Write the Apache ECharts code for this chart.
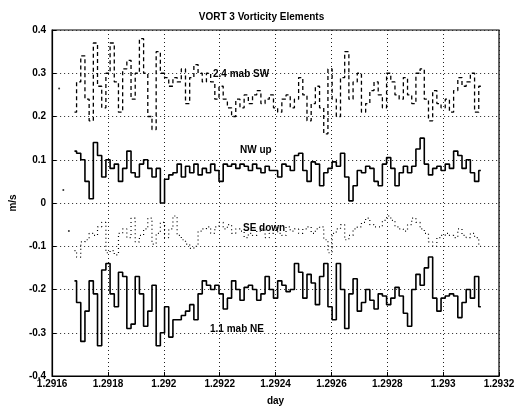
<!DOCTYPE html>
<html><head><meta charset="utf-8">
<script src="https://cdn.jsdelivr.net/npm/echarts@6/dist/echarts.min.js"></script>
<style>html,body{margin:0;padding:0;background:#fff}#c{width:523px;height:411px}</style>
</head><body><div id="c"></div>
<script>
const days = [1.29168,1.291695,1.29171,1.291725,1.29174,1.291755,1.29177,1.291785,1.2918,1.291815,
1.29183,1.291845,1.29186,1.291875,1.29189,1.291905,1.29192,1.291935,1.29195,1.291965,
1.29198,1.291995,1.29201,1.292025,1.29204,1.292055,1.29207,1.292085,1.2921,1.292115,
1.29213,1.292145,1.29216,1.292175,1.29219,1.292205,1.29222,1.292235,1.29225,1.292265,
1.29228,1.292295,1.29231,1.292325,1.29234,1.292355,1.29237,1.292385,1.2924,1.292415,
1.29243,1.292445,1.29246,1.292475,1.29249,1.292505,1.29252,1.292535,1.29255,1.292565,
1.29258,1.292595,1.29261,1.292625,1.29264,1.292655,1.29267,1.292685,1.2927,1.292715,
1.29273,1.292745,1.29276,1.292775,1.29279,1.292805,1.29282,1.292835,1.29285,1.292865,
1.29288,1.292895,1.29291,1.292925,1.29294,1.292955,1.29297,1.292985,1.293,1.293015,
1.29303,1.293045,1.29306,1.293075,1.29309,1.293105,1.29312,1.293135];

const sw = [0.21,0.28,0.34,0.24,0.19,0.37,0.27,0.22,0.30,0.37,
0.28,0.21,0.31,0.33,0.24,0.30,0.38,0.30,0.20,0.17,
0.35,0.30,0.29,0.27,0.29,0.28,0.31,0.23,0.29,0.32,
0.30,0.28,0.30,0.28,0.24,0.27,0.24,0.22,0.20,0.24,
0.22,0.25,0.23,0.25,0.26,0.23,0.24,0.25,0.22,0.21,
0.24,0.25,0.22,0.24,0.29,0.25,0.19,0.23,0.27,0.22,
0.16,0.31,0.24,0.20,0.29,0.35,0.24,0.28,0.30,0.21,
0.23,0.26,0.28,0.25,0.22,0.30,0.28,0.25,0.24,0.29,
0.25,0.23,0.30,0.31,0.24,0.19,0.26,0.23,0.22,0.24,
0.21,0.26,0.29,0.27,0.28,0.30,0.21,0.27];

const nw = [0.12,0.115,0.10,0.05,0.01,0.14,0.11,0.06,0.10,0.08,
0.09,0.05,0.08,0.12,0.07,0.06,0.09,0.10,0.08,0.06,
0.08,0.0,0.055,0.065,0.07,0.09,0.06,0.085,0.07,0.09,
0.065,0.08,0.07,0.09,0.075,0.05,0.09,0.085,0.09,0.08,
0.09,0.085,0.075,0.09,0.08,0.07,0.085,0.075,0.075,0.06,
0.09,0.085,0.075,0.11,0.115,0.075,0.05,0.095,0.09,0.04,
0.07,0.08,0.095,0.085,0.115,0.06,0.005,0.04,0.075,0.07,
0.085,0.08,0.05,0.04,0.09,0.105,0.08,0.04,0.07,0.085,
0.07,0.085,0.125,0.15,0.09,0.065,0.08,0.085,0.075,0.09,
0.08,0.12,0.11,0.08,0.10,0.07,0.05,0.075];

const se = [-0.11,-0.125,-0.09,-0.085,-0.07,-0.075,-0.055,-0.045,-0.115,-0.11,
-0.12,-0.07,-0.06,-0.08,-0.035,-0.09,-0.075,-0.06,-0.035,-0.095,
-0.07,-0.045,-0.08,-0.06,-0.03,-0.075,-0.085,-0.095,-0.105,-0.1,
-0.065,-0.06,-0.055,-0.07,-0.055,-0.045,-0.06,-0.05,-0.07,-0.06,
-0.065,-0.08,-0.07,-0.075,-0.065,-0.06,-0.08,-0.07,-0.055,-0.07,
-0.075,-0.055,-0.065,-0.06,-0.07,-0.06,-0.055,-0.07,-0.06,-0.055,
-0.085,-0.115,-0.07,-0.06,-0.05,-0.085,-0.075,-0.06,-0.055,-0.045,
-0.035,-0.05,-0.055,-0.055,-0.04,-0.03,-0.04,-0.055,-0.06,-0.065,
-0.05,-0.035,-0.045,-0.06,-0.07,-0.09,-0.1,-0.08,-0.075,-0.07,
-0.075,-0.08,-0.06,-0.075,-0.08,-0.07,-0.08,-0.1];

const ne = [-0.18,-0.23,-0.32,-0.25,-0.18,-0.21,-0.33,-0.155,-0.14,-0.21,
-0.24,-0.16,-0.17,-0.29,-0.28,-0.17,-0.21,-0.285,-0.25,-0.19,
-0.33,-0.3,-0.24,-0.31,-0.27,-0.27,-0.26,-0.25,-0.235,-0.27,
-0.21,-0.18,-0.19,-0.2,-0.19,-0.21,-0.245,-0.22,-0.18,-0.2,
-0.225,-0.195,-0.19,-0.2,-0.225,-0.21,-0.17,-0.2,-0.22,-0.18,
-0.19,-0.205,-0.2,-0.14,-0.16,-0.22,-0.165,-0.185,-0.235,-0.17,
-0.14,-0.24,-0.27,-0.14,-0.2,-0.29,-0.21,-0.175,-0.25,-0.23,
-0.2,-0.225,-0.245,-0.21,-0.215,-0.235,-0.22,-0.195,-0.215,-0.255,
-0.285,-0.2,-0.165,-0.19,-0.15,-0.125,-0.22,-0.25,-0.22,-0.215,
-0.21,-0.215,-0.265,-0.23,-0.2,-0.22,-0.17,-0.24];

const earlyDays = [1.291625, 1.29164, 1.29166];
const earlyVals = [0.265, 0.03, -0.065];

const seriesNames = ['2.4 mab SW', 'NW up', 'SE down', '1.1 mab NE'];
const xTicks = ['1.2916','1.2918','1.292','1.2922','1.2924','1.2926','1.2928','1.293','1.2932'];

const F = 'Liberation Sans, Arial, sans-serif';
const zip = v => days.map((d, i) => [d, v[i]]);
const chart = echarts.init(document.getElementById('c'), null, {renderer: 'canvas'});
chart.setOption({
  animation: false,
  title: {text: 'VORT 3 Vorticity Elements', left: 'center', top: 7,
    textStyle: {fontFamily: F, fontSize: 10, fontWeight: 'bold', color: '#000'}},
  grid: {left: 51, right: 24, top: 30, bottom: 29, show: true, borderColor: '#000', borderWidth: 1.2},
  xAxis: {type: 'value', min: 1.2916, max: 1.2932, interval: 0.0002,
    name: 'day', nameLocation: 'middle', nameGap: 20,
    nameTextStyle: {fontFamily: F, fontSize: 10, fontWeight: 'bold', color: '#000'},
    axisLine: {show: true, onZero: false, lineStyle: {color: '#000', width: 1.2}},
    axisTick: {inside: true, length: 4, lineStyle: {color: '#000'}},
    axisLabel: {fontFamily: F, fontSize: 10, fontWeight: 'bold', color: '#000', margin: 3,
      formatter: v => xTicks[Math.round((v - 1.2916) / 0.0002)]},
    splitLine: {show: true, lineStyle: {color: '#222', type: [1, 3], width: 1}}},
  yAxis: {type: 'value', min: -0.4, max: 0.4, interval: 0.1,
    name: 'm/s', nameLocation: 'middle', nameGap: 33,
    nameTextStyle: {fontFamily: F, fontSize: 10, fontWeight: 'bold', color: '#000'},
    axisLine: {show: true, onZero: false, lineStyle: {color: '#000', width: 1.2}},
    axisTick: {inside: true, length: 4, lineStyle: {color: '#000'}},
    axisLabel: {fontFamily: F, fontSize: 10, fontWeight: 'bold', color: '#000', margin: 6,
      formatter: v => Math.abs(v) < 1e-9 ? '0' : v.toFixed(1)},
    splitLine: {show: true, lineStyle: {color: '#222', type: [1, 3], width: 1}}},
  series: [
    {name: seriesNames[0], type: 'line', data: zip(sw), showSymbol: false, step: 'middle',
      lineStyle: {color: '#000', width: 1.3, type: [4, 3]}},
    {name: seriesNames[1], type: 'line', data: zip(nw), showSymbol: false, step: 'middle',
      lineStyle: {color: '#000', width: 1.6}},
    {name: seriesNames[2], type: 'line', data: zip(se), showSymbol: false, step: 'middle',
      lineStyle: {color: '#000', width: 1.2, type: [1, 3]}},
    {name: seriesNames[3], type: 'line', data: zip(ne), showSymbol: false, step: 'middle',
      lineStyle: {color: '#000', width: 1.6}},
    {name: 'early', type: 'scatter', data: earlyDays.map((d, i) => [d, earlyVals[i]]),
      symbolSize: 2, itemStyle: {color: '#000'}}
  ],
  graphic: [
    {type: 'text', left: 213, top: 69, style: {text: seriesNames[0], font: 'bold 10px ' + F, fill: '#000'}},
    {type: 'text', left: 240, top: 145, style: {text: seriesNames[1], font: 'bold 10px ' + F, fill: '#000'}},
    {type: 'text', left: 243, top: 223, style: {text: seriesNames[2], font: 'bold 10px ' + F, fill: '#000'}},
    {type: 'text', left: 210, top: 324, style: {text: seriesNames[3], font: 'bold 10px ' + F, fill: '#000'}}
  ]
});
</script></body></html>
